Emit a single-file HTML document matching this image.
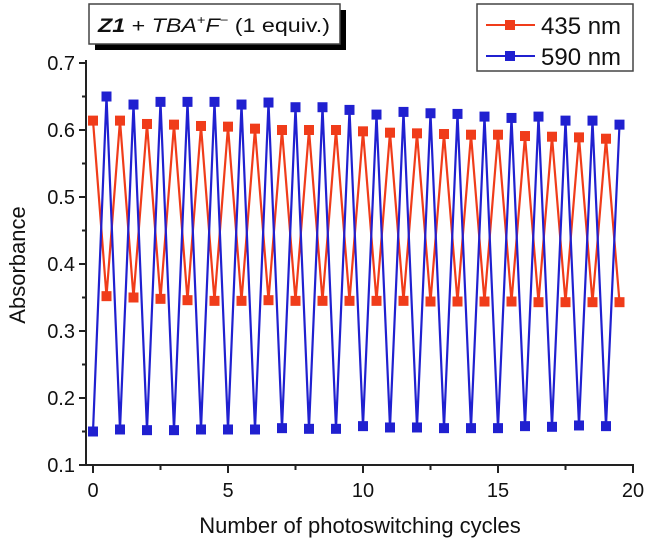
<!DOCTYPE html>
<html><head><meta charset="utf-8"><style>
body{margin:0;background:#fff;width:646px;height:545px;overflow:hidden}
svg{display:block;font-family:"Liberation Sans",sans-serif}
</style></head><body>
<svg id="chart" width="646" height="545">
<g id="axes"></g><g id="series"></g>
<g>
<rect x="95" y="10" width="251" height="40" fill="#000"/>
<rect x="89" y="4" width="251" height="40" fill="#fff" stroke="#444" stroke-width="1.5"/>
<text x="98" y="32" font-size="19" fill="#111" textLength="232" lengthAdjust="spacingAndGlyphs"><tspan font-weight="bold" font-style="italic">Z1</tspan> + <tspan font-style="italic">TBA</tspan><tspan font-size="12" dy="-8">+</tspan><tspan font-style="italic" dy="8">F</tspan><tspan font-size="12" dy="-8">−</tspan><tspan dy="8"> (1 equiv.)</tspan></text>
</g>
<g>
<rect x="477" y="4" width="156" height="67" fill="#fff" stroke="#444" stroke-width="1.5"/>
<line x1="486" y1="25" x2="535" y2="25" stroke="#f03c1a" stroke-width="2"/>
<rect x="505" y="20" width="10" height="10" fill="#f03c1a"/>
<text x="541" y="34" font-size="24" fill="#111">435 nm</text>
<line x1="486" y1="56" x2="535" y2="56" stroke="#2020d0" stroke-width="2"/>
<rect x="505" y="51" width="10" height="10" fill="#2020d0"/>
<text x="541" y="65" font-size="24" fill="#111">590 nm</text>
</g>
</svg>
<script>
const redHigh=[0.614,0.614,0.609,0.608,0.606,0.605,0.602,0.600,0.600,0.600,0.598,0.596,0.595,0.594,0.593,0.593,0.591,0.590,0.589,0.587];
const redLow=[0.352,0.350,0.348,0.346,0.345,0.345,0.346,0.345,0.345,0.345,0.345,0.345,0.344,0.344,0.344,0.344,0.343,0.343,0.343,0.343];
const blueLow=[0.150,0.153,0.152,0.152,0.153,0.153,0.153,0.155,0.154,0.154,0.158,0.156,0.156,0.155,0.155,0.155,0.158,0.157,0.159,0.158];
const blueHigh=[0.650,0.638,0.642,0.642,0.642,0.638,0.641,0.634,0.634,0.630,0.623,0.627,0.625,0.624,0.620,0.618,0.620,0.614,0.614,0.608];
const xTicks=[0,5,10,15,20];
const yTicks=[0.1,0.2,0.3,0.4,0.5,0.6,0.7];
const NS='http://www.w3.org/2000/svg';
const X=v=>93+v*27, Y=v=>465-(v-0.1)*670;
function mk(t,a,p){const e=document.createElementNS(NS,t);for(const k in a)e.setAttribute(k,a[k]);p.appendChild(e);return e;}
const ax=document.getElementById('axes');
const yl=mk('line',{x1:86,y1:60,x2:86,y2:466,stroke:'#222','stroke-width':2},ax);


const xl=mk('line',{x1:85,y1:465,x2:634,y2:465,stroke:'#222','stroke-width':2},ax);


yTicks.forEach((v,i)=>{mk('line',{x1:79,y1:Y(v),x2:86,y2:Y(v),stroke:'#222','stroke-width':2},ax);
 if(i<yTicks.length-1)mk('line',{x1:82,y1:Y(v+0.05),x2:86,y2:Y(v+0.05),stroke:'#222','stroke-width':2},ax);
 const t=mk('text',{x:75,y:Y(v)+7,'text-anchor':'end','font-size':20,fill:'#111'},ax);t.textContent=v.toFixed(1);
 
 });
xTicks.forEach((v,i)=>{mk('line',{x1:X(v),y1:465,x2:X(v),y2:473,stroke:'#222','stroke-width':2},ax);
 if(i<xTicks.length-1)mk('line',{x1:X(v+2.5),y1:465,x2:X(v+2.5),y2:470,stroke:'#222','stroke-width':2},ax);
 const t=mk('text',{x:X(v),y:497,'text-anchor':'middle','font-size':20,fill:'#111'},ax);t.textContent=v;
 
 });
const xt=mk('text',{x:360,y:533,'text-anchor':'middle','font-size':22,fill:'#111'},ax);xt.textContent='Number of photoswitching cycles';


const yt=mk('text',{x:0,y:0,transform:'translate(25,265) rotate(-90)','text-anchor':'middle','font-size':22,fill:'#111'},ax);yt.textContent='Absorbance';


const sg=document.getElementById('series');
function series(a,b,color,name){const pts=[];for(let i=0;i<a.length;i++){pts.push([i,a[i]]);pts.push([i+0.5,b[i]]);}
 const g=mk('g',{},sg);
 
 
 mk('polyline',{points:pts.map(p=>X(p[0])+','+Y(p[1])).join(' '),fill:'none',stroke:color,'stroke-width':2.2},g);
 pts.forEach(p=>{const r=mk('rect',{x:X(p[0])-5,y:Y(p[1])-5,width:10,height:10,fill:color},g);
  
  });}
series(redHigh,redLow,'#f03c1a','series-435nm');
series(blueLow,blueHigh,'#2020d0','series-590nm');
</script>
</body></html>
